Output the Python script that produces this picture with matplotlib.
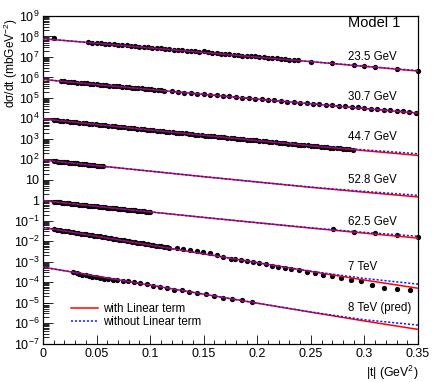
import matplotlib
matplotlib.use("Agg")
import matplotlib.pyplot as plt
import numpy as np
from matplotlib.ticker import FixedLocator, LogLocator, FuncFormatter, MultipleLocator
from matplotlib.lines import Line2D

plt.rcParams['font.family'] = ['Liberation Sans', 'DejaVu Sans']
plt.rcParams['mathtext.fontset'] = 'custom'
plt.rcParams['mathtext.rm'] = 'Liberation Sans'
plt.rcParams['mathtext.it'] = 'Liberation Sans:italic'
plt.rcParams['mathtext.default'] = 'regular'

#---------------- data (log10 of dsigma/dt, scaled per energy)
labels = ["23.5 GeV", "30.7 GeV", "44.7 GeV", "52.8 GeV", "62.5 GeV", "7 TeV", "8 TeV (pred)"]

t_a = [0.010, 0.042, 0.046, 0.050, 0.054, 0.058, 0.062, 0.066, 0.070, 0.074, 0.078,
       0.082, 0.086, 0.090, 0.094, 0.098, 0.102, 0.106, 0.110, 0.114, 0.118,
       0.122, 0.126, 0.130, 0.134, 0.138, 0.142, 0.146, 0.150, 0.154, 0.158,
       0.162, 0.166, 0.170, 0.174, 0.178, 0.182, 0.186, 0.190, 0.194, 0.198,
       0.202, 0.206, 0.210, 0.214, 0.218, 0.222, 0.226, 0.230, 0.234, 0.238,
       0.250, 0.270, 0.290, 0.300, 0.310, 0.330, 0.350]
lg_a = [7.91, 7.72, 7.70, 7.69, 7.67, 7.65, 7.64, 7.61, 7.60, 7.58, 7.56,
        7.54, 7.53, 7.50, 7.49, 7.47, 7.45, 7.43, 7.42, 7.40, 7.38,
        7.36, 7.34, 7.33, 7.31, 7.29, 7.27, 7.25, 7.27, 7.22, 7.20,
        7.18, 7.16, 7.14, 7.13, 7.11, 7.09, 7.07, 7.05, 7.04, 7.05,
        7.00, 6.98, 6.96, 6.95, 6.93, 6.91, 6.89, 6.87, 6.86, 6.84,
        6.77, 6.68, 6.59, 6.55, 6.50, 6.41, 6.32]

t_b = [0.017, 0.020, 0.023, 0.026, 0.029, 0.032, 0.035, 0.038, 0.041, 0.044, 0.047,
       0.050, 0.053, 0.056, 0.059, 0.062, 0.065, 0.068, 0.071, 0.074, 0.077,
       0.080, 0.083, 0.086, 0.089, 0.092, 0.095, 0.098, 0.101, 0.104, 0.107,
       0.110, 0.113,
       0.120, 0.126, 0.132, 0.138, 0.144, 0.150, 0.156, 0.162, 0.168, 0.174,
       0.180, 0.186, 0.192, 0.198, 0.204, 0.210, 0.216, 0.222, 0.228, 0.234,
       0.240, 0.246, 0.252, 0.258, 0.264, 0.270, 0.276, 0.282, 0.288, 0.294,
       0.300, 0.306, 0.312, 0.318, 0.324, 0.330, 0.336, 0.342, 0.348]
lg_b = [5.83, 5.81, 5.80, 5.78, 5.77, 5.75, 5.74, 5.72, 5.71, 5.69, 5.68,
        5.66, 5.65, 5.63, 5.62, 5.60, 5.59, 5.57, 5.56, 5.54, 5.53,
        5.51, 5.50, 5.49, 5.47, 5.46, 5.44, 5.43, 5.41, 5.40, 5.38,
        5.37, 5.35,
        5.32, 5.29, 5.26, 5.23, 5.21, 5.18, 5.15, 5.12, 5.10, 5.07,
        5.04, 5.01, 4.99, 4.96, 4.93, 4.91, 4.88, 4.85, 4.82, 4.80,
        4.77, 4.74, 4.72, 4.69, 4.66, 4.64, 4.61, 4.58, 4.56, 4.53,
        4.50, 4.48, 4.45, 4.42, 4.40, 4.37, 4.34, 4.31, 4.28]

t_c = [0.010, 0.013, 0.016, 0.019, 0.022, 0.025, 0.028, 0.031, 0.034, 0.037,
       0.040, 0.043, 0.046, 0.049, 0.052, 0.055, 0.058, 0.061, 0.064, 0.067,
       0.070, 0.073, 0.076, 0.079, 0.082, 0.085, 0.088, 0.091, 0.094, 0.097,
       0.100, 0.103, 0.106, 0.109, 0.112, 0.115, 0.118, 0.121, 0.124, 0.127,
       0.130, 0.133, 0.136, 0.139, 0.142, 0.145, 0.148, 0.151, 0.154, 0.157,
       0.160, 0.163, 0.166, 0.169, 0.172, 0.175, 0.178, 0.181, 0.184, 0.187,
       0.190, 0.193, 0.196, 0.199, 0.202, 0.205, 0.208, 0.211, 0.214, 0.217,
       0.220, 0.223, 0.226, 0.229, 0.232, 0.235, 0.238, 0.241, 0.244, 0.247,
       0.250, 0.253, 0.256, 0.259, 0.262, 0.265, 0.268, 0.271, 0.274, 0.277,
       0.280, 0.283, 0.286, 0.289]
lg_c = [3.92, 3.90, 3.88, 3.87, 3.85, 3.84, 3.82, 3.80, 3.79, 3.77,
        3.75, 3.74, 3.72, 3.71, 3.69, 3.67, 3.66, 3.64, 3.62, 3.61,
        3.59, 3.58, 3.56, 3.54, 3.53, 3.51, 3.49, 3.48, 3.46, 3.45,
        3.43, 3.41, 3.40, 3.38, 3.37, 3.35, 3.34, 3.32, 3.30, 3.29,
        3.27, 3.26, 3.24, 3.23, 3.21, 3.20, 3.18, 3.16, 3.15, 3.13,
        3.12, 3.10, 3.09, 3.07, 3.06, 3.04, 3.02, 3.01, 2.99, 2.98,
        2.96, 2.95, 2.93, 2.92, 2.90, 2.89, 2.87, 2.86, 2.84, 2.83,
        2.81, 2.80, 2.78, 2.77, 2.75, 2.74, 2.72, 2.71, 2.69, 2.68,
        2.66, 2.65, 2.63, 2.62, 2.60, 2.59, 2.57, 2.56, 2.54, 2.53,
        2.51, 2.50, 2.48, 2.47]

t_d = [0.010, 0.012, 0.014, 0.016, 0.018, 0.020, 0.022, 0.024, 0.026, 0.028,
       0.030, 0.032, 0.034, 0.036, 0.038, 0.040, 0.042, 0.044, 0.046, 0.048,
       0.050, 0.052, 0.054, 0.056]
lg_d = [1.91, 1.91, 1.89, 1.88, 1.86, 1.86, 1.85, 1.83, 1.83, 1.81,
        1.80, 1.80, 1.79, 1.77, 1.76, 1.75, 1.73, 1.72, 1.71, 1.70,
        1.69, 1.68, 1.67, 1.66]

t_e = [0.010, 0.012, 0.014, 0.016, 0.018, 0.020, 0.022, 0.024, 0.026, 0.028,
       0.030, 0.032, 0.034, 0.036, 0.038, 0.040, 0.042, 0.044, 0.046, 0.048,
       0.050, 0.052, 0.054, 0.056, 0.058, 0.060, 0.062, 0.064, 0.066, 0.068,
       0.070, 0.072, 0.074, 0.076, 0.078, 0.080, 0.082, 0.084, 0.086, 0.088,
       0.090, 0.092, 0.094, 0.096, 0.098, 0.100,
       0.271, 0.290, 0.310, 0.330, 0.350]
lg_e = [-0.08, -0.09, -0.10, -0.11, -0.12, -0.13, -0.14, -0.15, -0.17, -0.18,
        -0.19, -0.20, -0.21, -0.22, -0.23, -0.24, -0.26, -0.27, -0.28, -0.29,
        -0.30, -0.31, -0.32, -0.33, -0.34, -0.36, -0.37, -0.38, -0.39, -0.40,
        -0.41, -0.42, -0.43, -0.45, -0.46, -0.47, -0.48, -0.49, -0.50, -0.51,
        -0.52, -0.54, -0.55, -0.56, -0.57, -0.58,
        -1.41, -1.54, -1.62, -1.69, -1.78]

t_f = [0.0105, 0.013, 0.0155, 0.018, 0.0205, 0.023, 0.0255, 0.028, 0.0305, 0.033,
       0.0355, 0.038, 0.0405, 0.043, 0.0455, 0.048, 0.0505, 0.053, 0.0555, 0.058,
       0.0605, 0.063, 0.0655, 0.068, 0.0705, 0.073, 0.0755, 0.078, 0.0805, 0.083,
       0.0855, 0.088, 0.0905, 0.093, 0.0955, 0.098, 0.1005, 0.103, 0.1055, 0.108,
       0.1105, 0.113, 0.1155, 0.118,
       0.1248, 0.1310, 0.1372, 0.1435, 0.1496, 0.1559, 0.1621, 0.1683,
       0.1752, 0.1795, 0.1851, 0.1904, 0.1960, 0.2013, 0.2079, 0.2140, 0.2193,
       0.2256, 0.2318, 0.2387, 0.2464, 0.2536, 0.2613, 0.2700, 0.2784, 0.2872,
       0.2971, 0.3074, 0.3183, 0.3304, 0.3423]
lg_f = [-1.42, -1.44, -1.46, -1.48, -1.50, -1.52, -1.54, -1.56, -1.59, -1.61,
        -1.63, -1.65, -1.67, -1.69, -1.71, -1.73, -1.75, -1.77, -1.80, -1.82,
        -1.84, -1.86, -1.88, -1.90, -1.92, -1.94, -1.96, -1.98, -2.01, -2.03,
        -2.05, -2.07, -2.09, -2.11, -2.13, -2.15, -2.17, -2.19, -2.22, -2.24,
        -2.26, -2.28, -2.30, -2.32,
        -2.34, -2.39, -2.44, -2.50, -2.55, -2.60, -2.67, -2.76,
        -2.85, -2.88, -2.93, -2.98, -3.02, -3.06, -3.12, -3.19, -3.24,
        -3.29, -3.37, -3.40, -3.49, -3.58, -3.65, -3.71, -3.81, -3.89,
        -3.94, -4.12, -4.27, -4.32, -4.40]

t_g = [0.0283, 0.0314, 0.0339, 0.0367, 0.0398, 0.0429, 0.0460, 0.0495, 0.0532, 0.0569,
       0.0610, 0.0650, 0.0694, 0.0744, 0.0797, 0.0849, 0.0905, 0.0968, 0.1030, 0.1092,
       0.1155, 0.1223, 0.1294, 0.1366, 0.1440, 0.1519, 0.1596, 0.1677, 0.1767, 0.1855,
       0.1948]
lg_g = [-3.53, -3.57, -3.60, -3.63, -3.66, -3.70, -3.73, -3.76, -3.79, -3.83,
        -3.86, -3.89, -3.91, -3.94, -3.97, -4.01, -4.05, -4.10, -4.19, -4.24,
        -4.30, -4.37, -4.40, -4.47, -4.51, -4.59, -4.68, -4.76, -4.81, -4.87,
        -4.96]

# model curves read at these |t| values
t_fit = [0.0, 0.05, 0.10, 0.15, 0.20, 0.25, 0.30, 0.35]
fit_lin = [[7.89, 7.67, 7.44, 7.22, 6.99, 6.77, 6.54, 6.31],
           [5.90, 5.65, 5.41, 5.17, 4.94, 4.71, 4.48, 4.25],
           [3.97, 3.70, 3.43, 3.17, 2.91, 2.66, 2.42, 2.19],
           [1.96, 1.69, 1.42, 1.15, 0.89, 0.63, 0.39, 0.16],
           [-0.02, -0.30, -0.57, -0.84, -1.10, -1.36, -1.61, -1.85],
           [-1.33, -1.76, -2.19, -2.62, -3.05, -3.48, -3.90, -4.30],
           [-3.27, -3.71, -4.15, -4.59, -5.03, -5.47, -5.90, -6.31]]
fit_nolin = [[7.89, 7.67, 7.44, 7.22, 6.99, 6.77, 6.55, 6.33],
             [5.90, 5.65, 5.41, 5.17, 4.94, 4.71, 4.49, 4.27],
             [3.97, 3.70, 3.43, 3.17, 2.91, 2.67, 2.46, 2.27],
             [1.96, 1.69, 1.42, 1.15, 0.89, 0.64, 0.43, 0.24],
             [-0.02, -0.30, -0.57, -0.84, -1.10, -1.35, -1.57, -1.76],
             [-1.33, -1.76, -2.19, -2.62, -3.05, -3.47, -3.82, -4.10],
             [-3.27, -3.71, -4.15, -4.59, -5.03, -5.46, -5.84, -6.10]]

data_t = [t_a, t_b, t_c, t_d, t_e, t_f, t_g]
data_lg = [lg_a, lg_b, lg_c, lg_d, lg_e, lg_f, lg_g]

#---------------- figure
W, H = 436, 382
fig = plt.figure(figsize=(W / 100, H / 100), dpi=100)
ax = fig.add_axes([43 / W, 1 - 343.5 / H, 375 / W, 327.5 / H])

for t, lg in zip(data_t, data_lg):
    ax.plot(t, 10 ** np.array(lg), 'o', color='k', ms=3.8, mew=0, clip_on=False, zorder=2)

for yr, yb in zip(fit_lin, fit_nolin):
    ax.plot(t_fit, 10 ** np.array(yr), '-', color='#ff0000', lw=1.1, zorder=3)
    ax.plot(t_fit, 10 ** np.array(yb), color='#1a1aff', lw=1.1, ls=(0, (1.4, 1.2)), zorder=4)

ax.set_yscale('log')
ax.set_xlim(0, 0.35)
ax.set_ylim(1e-7, 1e9)

def ylab(v, pos):
    n = int(round(np.log10(v)))
    if n == 0:
        return '1'
    if n == 1:
        return '10'
    return r'$10^{%d}$' % n

ax.yaxis.set_major_locator(FixedLocator([10.0 ** k for k in range(-7, 10)]))
ax.yaxis.set_minor_locator(LogLocator(base=10, subs=np.arange(2, 10), numticks=40))
ax.yaxis.set_major_formatter(FuncFormatter(ylab))
ax.xaxis.set_major_locator(MultipleLocator(0.05))
ax.xaxis.set_minor_locator(MultipleLocator(0.01))
ax.xaxis.set_major_formatter(FuncFormatter(lambda v, p: '0' if abs(v) < 1e-9 else ('%.2f' % v).rstrip('0')))

ax.tick_params(which='both', direction='in', top=False, right=False, labelsize=9, width=0.6)
ax.tick_params(axis='y', which='major', length=7, pad=2.5)
ax.tick_params(axis='y', which='minor', length=4.3)
ax.tick_params(axis='x', which='major', length=6.5, pad=3)
ax.tick_params(axis='x', which='minor', length=3)
for s in ax.spines.values():
    s.set_linewidth(0.9)

fig.text(11 / W, 1 - 18 / H, 'dσ/dt (mbGeV$^{-2}$)', rotation=90, ha='center', va='top', fontsize=8.6)
fig.text(418 / W, 1 - 373 / H, '|t| (GeV$^{2}$)', ha='right', va='center', fontsize=8.8)
fig.text(348 / W, 1 - 23 / H, 'Model 1', ha='left', va='center', fontsize=10.5)

label_y = [57.3, 96.7, 136.7, 180, 221.7, 267.3, 308.3]
for lab, yy in zip(labels, label_y):
    fig.text(348 / W, 1 - yy / H, lab, ha='left', va='center', fontsize=8.3)

handles = [Line2D([], [], color='#ff0000', lw=1.1),
           Line2D([], [], color='#1a1aff', lw=1.1, ls=(0, (1.4, 1.2)))]
ax.legend(handles, ['with Linear term', 'without Linear term'], loc='upper left',
          bbox_to_anchor=(71 / W, 1 - 303 / H), bbox_transform=fig.transFigure,
          frameon=False, fontsize=8.3, borderpad=0, borderaxespad=0,
          handlelength=2.3, handletextpad=0.5, labelspacing=0.05)

fig.savefig('out.png', dpi=100)
